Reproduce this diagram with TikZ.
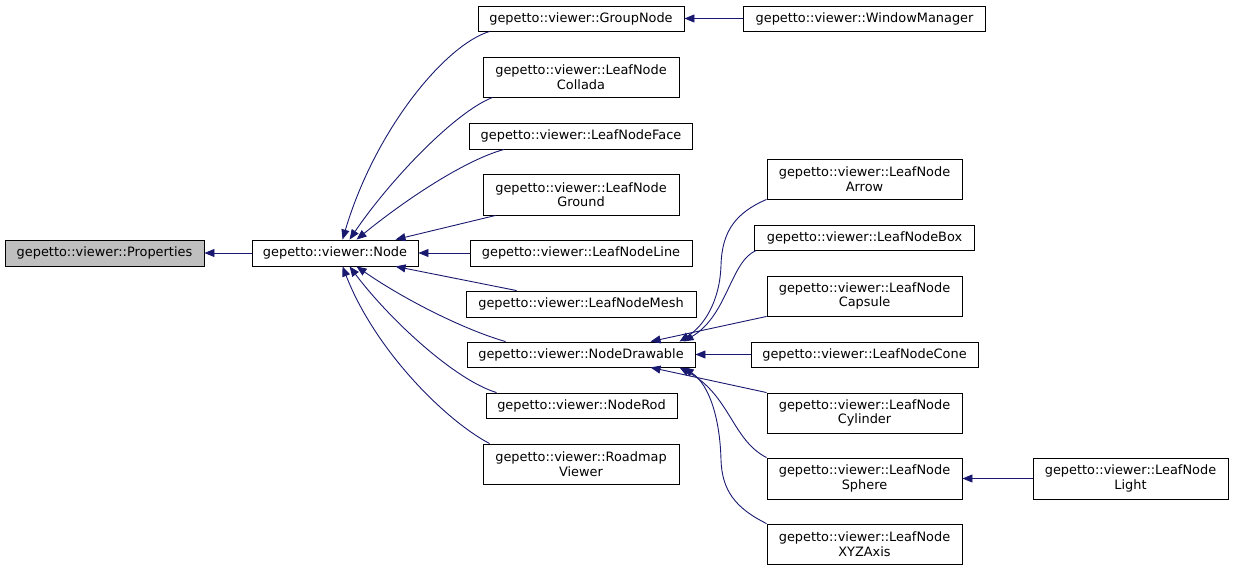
\documentclass[tikz,border=0pt]{standalone}
\usepackage{fontspec}
\setmainfont{DejaVu Sans}
\usetikzlibrary{arrows.meta}
\definecolor{edgec}{HTML}{191970}
\definecolor{graybox}{HTML}{BFBFBF}
\tikzset{
  cls/.style={draw=black, line width=0.9pt, fill=white, inner sep=0pt, align=center,
    font=\fontsize{12.9}{14.5}\selectfont, text=black},
  w/.style={minimum width=#1},
  h/.style={minimum height=#1},
  edge/.style={draw=edgec, line width=0.9pt, -{Triangle[length=10pt,width=8pt]}}
}
\begin{document}
\begin{tikzpicture}[x=1pt,y=-1pt]
\useasboundingbox (0,0) rectangle (1233,570);
% nodes
\node[cls, fill=graybox, w=199, h=26] (prop) at (104.5,253) {gepetto::viewer::Properties};
\node[cls, w=166, h=26] (node) at (335,253) {gepetto::viewer::Node};
\node[cls, w=206, h=25] (group) at (581,18.5) {gepetto::viewer::GroupNode};
\node[cls, w=242, h=25] (wm) at (864.5,18.5) {gepetto::viewer::WindowManager};
\node[cls, w=196, h=40] (collada) at (581,77) {gepetto::viewer::LeafNode\\Collada};
\node[cls, w=223, h=26] (face) at (581,136) {gepetto::viewer::LeafNodeFace};
\node[cls, w=196, h=41] (ground) at (581,194.5) {gepetto::viewer::LeafNode\\Ground};
\node[cls, w=222, h=26] (line) at (581,253) {gepetto::viewer::LeafNodeLine};
\node[cls, w=230, h=26] (mesh) at (581,304) {gepetto::viewer::LeafNodeMesh};
\node[cls, w=228, h=25] (drawable) at (581,354.5) {gepetto::viewer::NodeDrawable};
\node[cls, w=191, h=25] (rod) at (581.5,405.5) {gepetto::viewer::NodeRod};
\node[cls, w=196, h=40] (roadmap) at (581,464) {gepetto::viewer::Roadmap\\Viewer};
\node[cls, w=195, h=40] (arrow) at (864.5,179) {gepetto::viewer::LeafNode\\Arrow};
\node[cls, w=220, h=25] (box) at (864.5,237.5) {gepetto::viewer::LeafNodeBox};
\node[cls, w=195, h=40] (capsule) at (864.5,296) {gepetto::viewer::LeafNode\\Capsule};
\node[cls, w=227, h=25] (cone) at (864.5,354.5) {gepetto::viewer::LeafNodeCone};
\node[cls, w=195, h=40] (cylinder) at (864.5,413) {gepetto::viewer::LeafNode\\Cylinder};
\node[cls, w=195, h=41] (sphere) at (864.5,478.5) {gepetto::viewer::LeafNode\\Sphere};
\node[cls, w=195, h=40] (xyz) at (864.5,544) {gepetto::viewer::LeafNode\\XYZAxis};
\node[cls, w=195, h=41] (light) at (1130.5,478.5) {gepetto::viewer::LeafNode\\Light};
% edges
\draw[edge] (node.west) -- (prop.east);
\draw[edge] (wm.west) -- (group.east);
\draw[edge] ([xshift=12pt]group.south west) .. controls (445,45) and (375,130) .. ([xshift=91pt]node.north west);
\draw[edge] ([xshift=10pt]collada.south west) .. controls (455,112) and (390,180) .. ([xshift=98pt]node.north west);
\draw[edge] ([xshift=35pt]face.south west) .. controls (465,160) and (405,200) .. ([xshift=105pt]node.north west);
\draw[edge] ([xshift=13pt]ground.south west) -- ([xshift=144pt]node.north west);
\draw[edge] (line.west) -- (node.east);
\draw[edge] ([xshift=51pt]mesh.north west) -- ([xshift=144pt]node.south west);
\draw[edge] ([xshift=39pt]drawable.north west) .. controls (465,330) and (405,300) .. ([xshift=105pt]node.south west);
\draw[edge] ([xshift=11pt]rod.north west) .. controls (455,380) and (390,320) .. ([xshift=98pt]node.south west);
\draw[edge] ([xshift=7pt]roadmap.north west) .. controls (445,420) and (375,350) .. ([xshift=91pt]node.south west);
% NodeDrawable children
\draw[edge] (arrow.south west) .. controls (735,213) and (722,232) .. (721,265) .. controls (720,300) and (705,325) .. ([xshift=213pt]drawable.north west);
\draw[edge] ([xshift=2pt]box.south west) .. controls (730,262) and (728,315) .. ([xshift=217pt]drawable.north west);
\draw[edge] (capsule.south west) -- ([xshift=184pt]drawable.north west);
\draw[edge] (cone.west) -- (drawable.east);
\draw[edge] (cylinder.north west) -- ([xshift=184pt]drawable.south west);
\draw[edge] (sphere.north west) .. controls (732,440) and (730,395) .. ([xshift=213pt]drawable.south west);
\draw[edge] (xyz.north west) .. controls (735,508) and (722,490) .. (721,460) .. controls (720,420) and (710,385) .. ([xshift=217pt]drawable.south west);
\draw[edge] (light.west) -- (sphere.east);
\end{tikzpicture}
\end{document}
